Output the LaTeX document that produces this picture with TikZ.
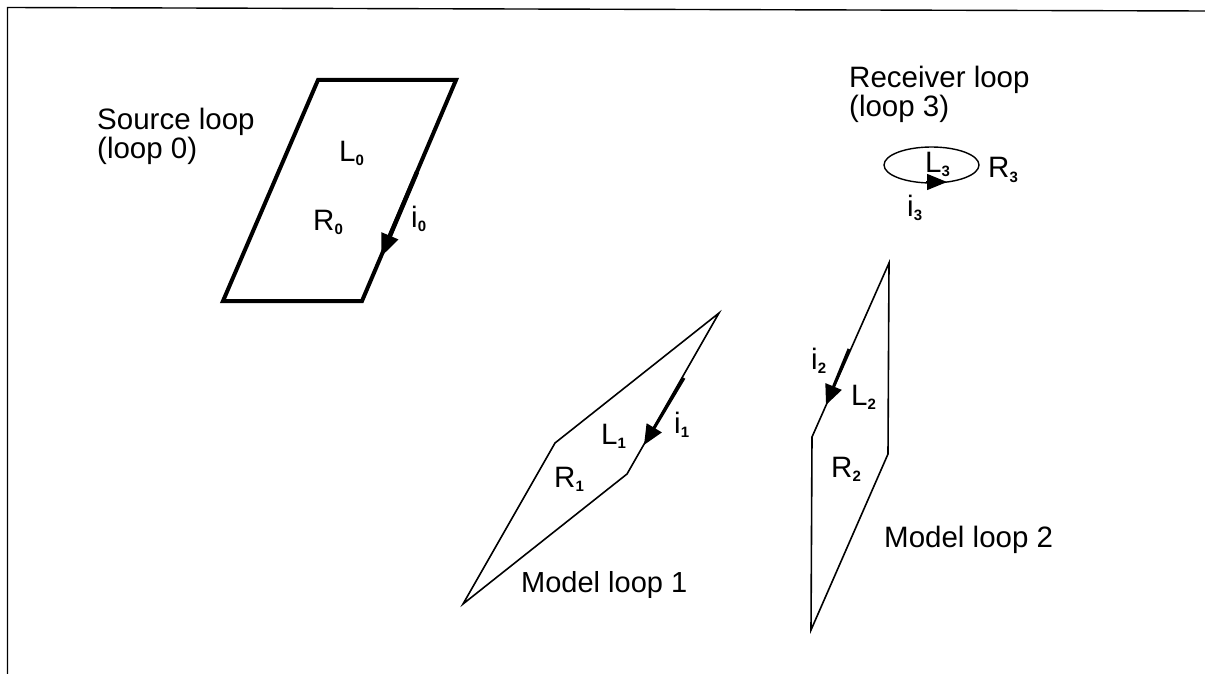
\documentclass[tikz,border=0pt]{standalone}
\usepackage{fontspec}
\setmainfont{Liberation Sans}
\usetikzlibrary{arrows.meta,shapes.geometric}
\tikzset{
  x=1pt,y=-1pt,
  lbl/.style={inner sep=0pt,anchor=base west,font=\fontsize{29.5}{33}\selectfont,align=left},
  sym/.style={inner sep=0pt,anchor=base west,font=\fontsize{29.5}{33}\selectfont},
  heavy/.style={line width=4pt,line join=miter},
  thin loop/.style={line width=1.6pt,line join=miter},
  cur/.style={line width=4.5pt,-{Triangle[length=23pt,width=17pt]}},
  cursm/.style={line width=3pt,-{Triangle[length=20pt,width=17pt]}},
}
\newcommand{\subs}[1]{\raisebox{-4.5pt}{\fontsize{15}{15}\selectfont\bfseries #1}}
\begin{document}
\begin{tikzpicture}
\useasboundingbox (0,0) rectangle (1205,674);
\coordinate (f1) at (7.5,674);
\coordinate (f2) at (7.5,7.5);
\coordinate (f3) at (1205,11);
\draw[line width=1.4pt] (f1) -- (f2) -- (f3);
% source loop
\coordinate (s1) at (318,80);
\coordinate (s2) at (456,80);
\coordinate (s3) at (362,301);
\coordinate (s4) at (223,301);
\draw[heavy] (s1) -- (s2) -- (s3) -- (s4) -- cycle;
\coordinate (s5) at (417,172);
\coordinate (s6) at (381,257);
\draw[cur] (s5) -- (s6);
% model loop 1
\coordinate (a1) at (719,313);
\coordinate (a2) at (627,474);
\coordinate (a3) at (463,604);
\coordinate (a4) at (555,443);
\draw[thin loop] (a1) -- (a2) -- (a3) -- (a4) -- cycle;
\coordinate (a5) at (684,378);
\coordinate (a6) at (644,445);
\draw[cursm] (a5) -- (a6);
% model loop 2
\coordinate (b1) at (889,263);
\coordinate (b2) at (888,454);
\coordinate (b3) at (811,630);
\coordinate (b4) at (812,437);
\draw[thin loop] (b1) -- (b2) -- (b3) -- (b4) -- cycle;
\coordinate (b5) at (849,349);
\coordinate (b6) at (826,405);
\draw[cursm] (b5) -- (b6);
% receiver loop
\node[draw,ellipse,line width=1.4pt,minimum width=95pt,minimum height=36pt,inner sep=0pt] (e) at (931.5,165) {};
\coordinate (c5) at (926,182);
\coordinate (c6) at (947,182);
\draw[-{Triangle[length=20pt,width=16pt]},line width=1.4pt] (c5) -- (c6);
% labels
\node[lbl] (t0) at (97,130) {Source loop};
\node[lbl] (t0b) at (97,158) {(loop 0)};
\node[lbl] (t3) at (849,88) {Receiver loop};
\node[lbl] (t3b) at (849,117) {(loop 3)};
\node[lbl,font=\fontsize{29}{33}\selectfont] (t1) at (521,592) {Model loop 1};
\node[lbl] (t2) at (884,547) {Model loop 2};
\node[sym] (l0) at (339,161) {L\subs{0}};
\node[sym] (r0) at (313,230) {R\subs{0}};
\node[sym] (i0) at (411,227) {i\subs{0}};
\node[sym] (l1) at (601,444) {L\subs{1}};
\node[sym] (r1) at (554,487) {R\subs{1}};
\node[sym] (i1) at (674,433) {i\subs{1}};
\node[sym] (l2) at (851,405) {L\subs{2}};
\node[sym] (r2) at (831,477) {R\subs{2}};
\node[sym] (i2) at (811,369) {i\subs{2}};
\node[sym] (l3) at (925,172) {L\subs{3}};
\node[sym] (r3) at (988,178) {R\subs{3}};
\node[sym] (i3) at (907,216) {i\subs{3}};
\end{tikzpicture}
\end{document}
